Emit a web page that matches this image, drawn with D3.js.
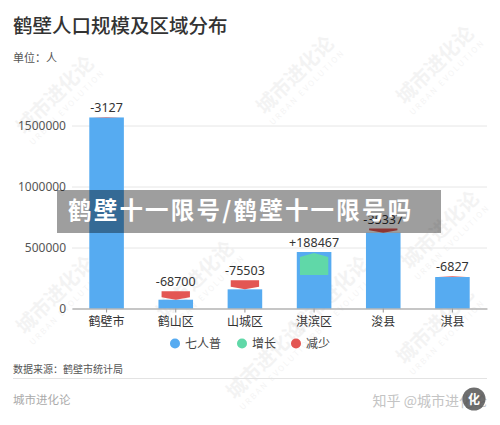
<!DOCTYPE html>
<html>
<head>
<meta charset="utf-8">
<script src="https://cdn.jsdelivr.net/npm/d3@7"></script>
<style>
  html, body { margin: 0; padding: 0; background: #fff; }
  svg { display: block; font-family: "Noto Sans CJK SC", "Noto Sans", sans-serif; }
</style>
</head>
<body>
<svg id="chart"></svg>
<script>
var width = 500;
var height = 425;

// data
var categories = ['鹤壁市', '鹤山区', '山城区', '淇滨区', '浚县', '淇县'];
var pop7 = [1565973, 72000, 157000, 463000, 620000, 258000];
var change = [-3127, -68700, -75503, 188467, -35337, -6827];
var yTicks = [0, 500000, 1000000, 1500000];
var legendNames = ['七人普', '增长', '减少'];

var blue = '#56abf1', green = '#60d8a8', red = '#e35653';

var svg = d3.select('#chart')
    .attr('width', width)
    .attr('height', height);

// faint watermarks
var marks = [[60, 100], [300, 80], [440, 70], [445, 235], [60, 300], [200, 285], [335, 300], [440, 330], [270, 365]];
marks.forEach(function(m){
  var g = svg.append('g')
      .attr('transform', 'translate(' + m[0] + ',' + m[1] + ') rotate(-45)')
      .style('opacity', 0.05);
  g.append('text').attr('text-anchor', 'middle').attr('font-size', 20).attr('font-weight', 'bold')
      .attr('fill', '#333').text('城市进化论');
  g.append('text').attr('text-anchor', 'middle').attr('y', 13).attr('font-size', 8)
      .attr('letter-spacing', 2).attr('fill', '#333').text('URBAN EVOLUTION');
});

// title
svg.append('text').attr('x', 13).attr('y', 33)
    .attr('font-size', 19.5).attr('font-weight', 500).attr('fill', '#333')
    .text('鹤壁人口规模及区域分布');
svg.append('text').attr('x', 13).attr('y', 62)
    .attr('font-size', 11).attr('fill', '#555')
    .text('单位：人');

var x = d3.scaleBand()
    .domain(categories)
    .range([72, 487])
    .paddingInner(0.5)
    .paddingOuter(0.25);

var y = d3.scaleLinear()
    .domain([0, 1500000])
    .range([308.5, 125.5]);

// gridlines + y labels
var yAxis = svg.append('g')
    .attr('transform', 'translate(72,0)')
    .call(d3.axisLeft(y).tickValues(yTicks).tickSize(-415).tickFormat(d3.format('d')).tickPadding(6));
yAxis.select('.domain').remove();
yAxis.selectAll('.tick line').attr('stroke', '#e6e6e6');
yAxis.selectAll('.tick text').attr('font-size', 12).attr('fill', '#555')
    .attr('font-family', '"Noto Sans", sans-serif');

// blue bars
svg.append('g').selectAll('rect')
    .data(categories)
    .enter().append('rect')
    .attr('x', function(d){ return x(d); })
    .attr('width', x.bandwidth())
    .attr('y', function(d, i){ return y(pop7[i]); })
    .attr('height', function(d, i){ return y(0) - y(pop7[i]); })
    .style('fill', blue);

// change arrows
function arrowPath(d, i){
  var c = change[i];
  var w = x.bandwidth() * 0.82;
  var x0 = x(d) + (x.bandwidth() - w) / 2, x1 = x0 + w, xc = x0 + w / 2;
  var top, bot, n;
  if (c < 0) {
    top = y(pop7[i] - c); bot = y(pop7[i]);
    n = Math.min(2.5, bot - top);
    return 'M' + x0 + ',' + top + 'L' + x1 + ',' + top + 'L' + x1 + ',' + (bot - n) +
        'L' + xc + ',' + bot + 'L' + x0 + ',' + (bot - n) + 'Z';
  }
  top = y(pop7[i]) + 1; bot = y(pop7[i] - c);
  n = Math.min(4, bot - top);
  return 'M' + x0 + ',' + bot + 'L' + x1 + ',' + bot + 'L' + x1 + ',' + (top + n) +
      'L' + xc + ',' + top + 'L' + x0 + ',' + (top + n) + 'Z';
}
svg.append('g').selectAll('path')
    .data(categories)
    .enter().append('path')
    .attr('d', arrowPath)
    .style('fill', function(d, i){ return change[i] < 0 ? red : green; });

// value labels
svg.append('g').selectAll('text')
    .data(categories)
    .enter().append('text')
    .attr('x', function(d){ return x(d) + x.bandwidth() / 2; })
    .attr('y', function(d, i){
      var top = change[i] < 0 ? pop7[i] - change[i] : pop7[i];
      return y(top) - 5;
    })
    .attr('text-anchor', 'middle')
    .attr('font-size', 12.5).attr('fill', '#333')
    .attr('font-family', '"Noto Sans", sans-serif')
    .text(function(d, i){ return (change[i] > 0 ? '+' : '') + change[i]; });

// x axis
var xAxis = svg.append('g')
    .attr('transform', 'translate(0,308.5)')
    .call(d3.axisBottom(x).tickSize(4).tickSizeOuter(0).tickPadding(5));
xAxis.select('.domain').attr('stroke', '#999');
xAxis.selectAll('.tick line').attr('stroke', '#999');
xAxis.selectAll('.tick text').attr('font-size', 12).attr('fill', '#333')
    .attr('font-family', '"Noto Sans CJK SC", sans-serif');

// legend
var legendX = [175, 242, 296];
var legendColors = [blue, green, red];
legendNames.forEach(function(name, i){
  svg.append('circle').attr('cx', legendX[i]).attr('cy', 343.5).attr('r', 5).style('fill', legendColors[i]);
  svg.append('text').attr('x', legendX[i] + 10).attr('y', 348)
      .attr('font-size', 12).attr('fill', '#444').text(name);
});

// footer
svg.append('text').attr('x', 13).attr('y', 373)
    .attr('font-size', 10).attr('fill', '#555').text('数据来源：鹤壁市统计局');
svg.append('line').attr('x1', 13).attr('x2', 487).attr('y1', 378.5).attr('y2', 378.5)
    .attr('stroke', '#e3e3e3');
svg.append('text').attr('x', 13).attr('y', 404)
    .attr('font-size', 11.5).attr('fill', '#aaa').text('城市进化论');
svg.append('text').attr('x', 487).attr('y', 406).attr('text-anchor', 'end')
    .attr('font-size', 14).attr('fill', '#c4c4c4').text('知乎 @城市进化论');
svg.append('circle').attr('cx', 474).attr('cy', 399).attr('r', 11.5)
    .style('fill', '#555').style('opacity', 0.85);
svg.append('text').attr('x', 474).attr('y', 404).attr('text-anchor', 'middle')
    .attr('font-size', 12).attr('font-weight', 'bold').attr('fill', '#fff').text('化');

// overlay banner
svg.append('rect').attr('x', 57).attr('y', 190).attr('width', 384).attr('height', 43)
    .style('fill', '#000').style('opacity', 0.38);
svg.append('text').attr('x', 68).attr('y', 209).attr('dominant-baseline', 'central')
    .attr('font-size', 23.5).attr('font-weight', 'bold').attr('fill', '#fff')
    .attr('letter-spacing', 2.2)
    .text('鹤壁十一限号/鹤壁十一限号吗');
</script>
</body>
</html>
